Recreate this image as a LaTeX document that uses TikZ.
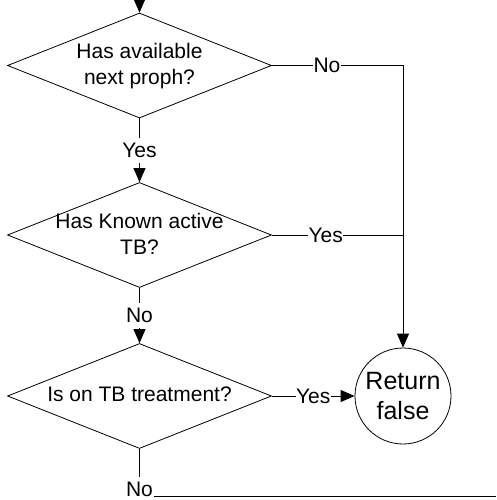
\documentclass[tikz,border=0pt]{standalone}
\usepackage{fontspec}
\setmainfont{Liberation Sans}
\usetikzlibrary{shapes.geometric,arrows.meta}
\begin{document}
\begin{tikzpicture}[x=1pt,y=-1pt,
 dec/.style={diamond, draw, line width=0.8pt, minimum width=264pt, minimum height=105pt, inner sep=0pt},
 txt/.style={align=center, font=\fontsize{21}{25.5}\selectfont, inner sep=0pt},
 lbl/.style={fill=white, font=\fontsize{21}{25.5}\selectfont, inner xsep=0.6pt, inner ysep=5pt},
 conn/.style={line width=0.8pt},
 arr/.style={conn, -{Triangle[length=14pt,width=12pt]}}
]
\useasboundingbox (0,0) rectangle (496,500);
\node[dec] (d1) at (139.5,65.5) {};
\node[txt] (t1) at (139.5,66) {Has available\\next proph?};
\node[dec] (d2) at (139.5,235) {};
\node[txt] (t2) at (139.5,234) {Has Known active\\TB?};
\node[dec] (d3) at (139.5,396) {};
\node[txt] (t3) at (139.5,394) {Is on TB treatment?};
\node[circle, draw, conn, minimum size=96pt, inner sep=0pt, align=center,
      font=\fontsize{25}{30}\selectfont] (ret) at (403,396) {Return\\false};
\coordinate (start) at (139.5,0);
\coordinate (end) at (496,496);
\draw[arr] (start) -- (d1.north);
\draw[arr] (d1.south) -- node[lbl]{Yes} (d2.north);
\draw[arr] (d2.south) -- node[lbl]{No} (d3.north);
\draw[conn] (d3.south) |- node[lbl,pos=0.5,anchor=base]{No} (end);
\draw[arr] (d1.east) -- node[lbl,pos=0.42]{No} (d1.east -| ret.north) -- (ret.north);
\draw[conn] (d2.east) -- node[lbl,pos=0.41]{Yes} (d2.east -| ret.north);
\draw[arr] (d3.east) -- node[lbl]{Yes} (ret.west);
\end{tikzpicture}
\end{document}
